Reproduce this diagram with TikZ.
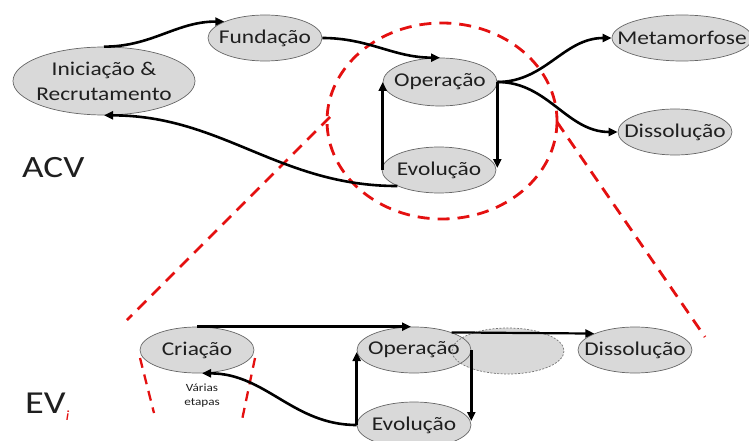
\documentclass[tikz,border=0pt]{standalone}
\usepackage{fontspec}
\setmainfont{Carlito}[FakeStretch=1.2]
\usetikzlibrary{arrows.meta,shapes.geometric}
\definecolor{dred}{RGB}{228,16,16}
\newcommand\ztext[1]{\makebox[0pt][c]{#1}}
\begin{document}
\begin{tikzpicture}[x=1pt,y=-1pt,
  phase/.style={ellipse,draw=black!60,line width=0.7pt,fill=black!15,inner sep=0pt,
    text=black!88,font=\fontsize{19.5}{25}\selectfont,minimum width=114pt,minimum height=46pt},
  flow/.style={line width=2.6pt,-{Triangle[length=9pt,width=8pt]}},
  zoomline/.style={draw=dred,line width=2.8pt,dash pattern=on 12pt off 8pt},
  cutline/.style={draw=dred,line width=2.3pt,dash pattern=on 10pt off 7pt},
  ghoststyle/.style={ellipse,fill=black!15,inner sep=0pt,minimum width=112pt,minimum height=46pt},
  ghostline/.style={draw=black!55,line width=0.7pt,dash pattern=on 2pt off 1.5pt},
  label/.style={text=black!88,inner sep=0pt}
]
\useasboundingbox (0,0) rectangle (749,441);
% zoom circle and cone
\draw[zoomline] (442,121) ellipse [x radius=115, y radius=98];
\coordinate (cl1) at (330,117);
\coordinate (cl2) at (127,320);
\coordinate (cr1) at (557,122);
\coordinate (cr2) at (705,337);
\draw[zoomline] (cl1) -- (cl2);
\draw[zoomline] (cr1) -- (cr2);
% top nodes
\node[phase,minimum width=182pt,minimum height=68pt,align=center] (ini) at (104,81) {\ztext{Iniciação \&}\\\ztext{Recrutamento}};
\node[phase] (fun) at (265,38) {\ztext{Fundação}};
\node[phase,minimum height=48pt] (op) at (440,82) {\ztext{Operação}};
\node[phase] (evo) at (439,170) {\ztext{Evolução}};
\node[phase,minimum width=140pt] (meta) at (682,38) {\ztext{Metamorfose}};
\node[phase] (dis) at (675,132) {\ztext{Dissolução}};
% top arrows
\draw[flow] (ini.north) to[out=0,in=180] (fun.158);
\draw[flow] (fun.east) to[out=0,in=180] (op.north);
\draw[flow] (op.east) to[out=0,in=180] (meta.west);
\draw[flow] (op.east) to[out=0,in=180] (dis.west);
\draw[flow] (evo.201) to[out=180,in=0] (ini.south);
\draw[flow] ([xshift=1pt]evo.west) -- (op.west);
\draw[flow] (op.east) -- ([xshift=1pt,yshift=2pt]evo.east);
% labels
\node[label,anchor=base west,font=\fontsize{31}{31}\selectfont] (acv) at (22,177) {ACV};
\node[label,anchor=base west,font=\fontsize{32}{32}\selectfont] (ev) at (25,413) {EV\raisebox{-7pt}{\fontsize{14}{14}\selectfont\itshape\color{dred}i}};
% bottom nodes
\node[phase] (cria) at (197,350) {\ztext{Criação}};
\node[ghoststyle] (ghost) at (508,351) {};
\node[phase] (op2) at (414,350) {\ztext{Operação}};
\draw[ghostline] (ghost.center) ellipse [x radius=56, y radius=23];
\node[phase] (dis2) at (635,350) {\ztext{Dissolução}};
\node[phase] (evo2) at (414,425) {\ztext{Evolução}};
\node[label,align=center,font=\fontsize{11}{14}\selectfont] (varias) at (202,396) {Várias\\etapas};
% small cut lines around Criação
\coordinate (a1) at (140,358);
\coordinate (a2) at (154,413);
\coordinate (b1) at (255,358);
\coordinate (b2) at (242,420);
\draw[cutline] (a1) -- (a2);
\draw[cutline] (b1) -- (b2);
% bottom arrows
\draw[flow] (cria.north) -- ([xshift=-3pt]op2.north);
\draw[flow,line width=2.2pt] (op2.25) -- (dis2.158);
\draw[flow] (op2.east) -- ([yshift=4pt]evo2.east);
\draw[flow] (evo2.west) -- ([yshift=-2pt]op2.west);
\draw[flow] (evo2.west) to[out=180,in=0] ([xshift=5pt]cria.south);
\end{tikzpicture}
\end{document}
